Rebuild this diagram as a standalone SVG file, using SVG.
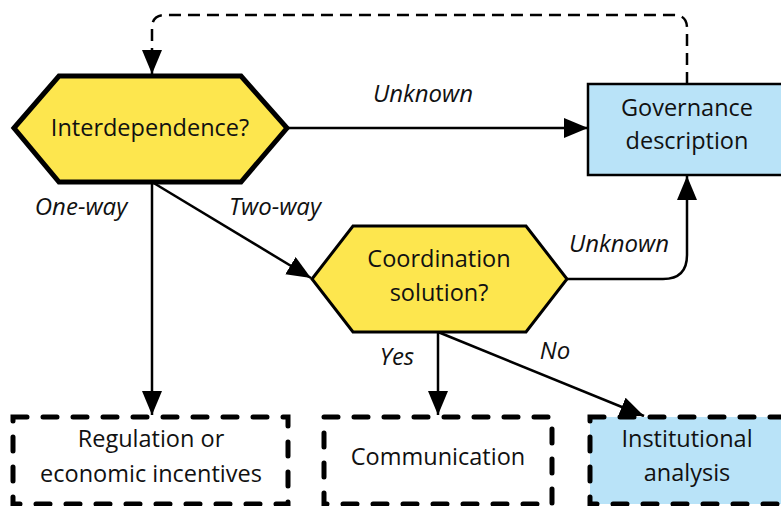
<svg xmlns="http://www.w3.org/2000/svg" width="781" height="506" viewBox="0 0 781 506">
<defs>
<marker id="arr" markerUnits="userSpaceOnUse" markerWidth="26" markerHeight="22" refX="24" refY="10" orient="auto">
<path d="M0,0 L24,10 L0,20 z" fill="#000"/>
</marker>
<style>
.lbl{font-family:"Open Sans","Noto Sans",sans-serif;font-size:23.5px;fill:#111;text-anchor:middle}
.it{font-family:"Open Sans","Noto Sans",sans-serif;font-size:24px;font-style:italic;fill:#111;text-anchor:middle}
.hex{fill:#fde64e;stroke:#000;stroke-linejoin:miter}
.blue{fill:#b9e3f8}
.solidbox{stroke:#000;stroke-width:2.5}
.dbox{stroke:#000;stroke-width:5;stroke-dasharray:14 16;stroke-linecap:round}
.conn{fill:none;stroke:#000;stroke-width:2.5}
</style>
</defs>
<rect width="781" height="506" fill="#fff"/>
<g id="connectors">
<path class="conn" d="M687,84 V28 Q687,15 674,15 H165 Q152,15 152,28 V74" stroke-dasharray="12 7" marker-end="url(#arr)"/>
<path class="conn" d="M287,128 H588" marker-end="url(#arr)"/>
<path class="conn" d="M152,182 V415" marker-end="url(#arr)"/>
<path class="conn" d="M152,182 L311,278" marker-end="url(#arr)"/>
<path class="conn" d="M567,279 H663 Q687,279 687,255 V176" marker-end="url(#arr)"/>
<path class="conn" d="M438,332 V415" marker-end="url(#arr)"/>
<path class="conn" d="M438,332 L644,416" marker-end="url(#arr)"/>
</g>
<g id="interdependence">
<polygon class="hex" stroke-width="5" points="14,128 59,76 241,76 287,128 241,182 59,182"/>
<text class="lbl" x="150" y="136">Interdependence?</text>
</g>
<g id="governance">
<rect class="blue solidbox" x="588" y="84" width="200" height="91"/>
<text class="lbl" x="687" y="116">Governance</text>
<text class="lbl" x="687" y="149">description</text>
</g>
<g id="coordination">
<polygon class="hex" stroke-width="3" points="312,279 353,226 526,226 567,279 526,332 353,332"/>
<text class="lbl" x="439" y="267">Coordination</text>
<text class="lbl" x="439" y="301">solution?</text>
</g>
<g id="regulation">
<rect class="dbox" fill="none" x="13" y="417" width="275" height="87"/>
<text class="lbl" x="151" y="447">Regulation or</text>
<text class="lbl" x="151" y="482">economic incentives</text>
</g>
<g id="communication">
<rect class="dbox" fill="none" x="324" y="417" width="228" height="87"/>
<text class="lbl" x="438" y="465">Communication</text>
</g>
<g id="institutional">
<rect class="dbox blue" x="590" y="417" width="200" height="87"/>
<text class="lbl" x="687" y="447">Institutional</text>
<text class="lbl" x="687" y="481">analysis</text>
</g>
<g id="labels">
<text class="it" x="423" y="102">Unknown</text>
<text class="it" x="81" y="215">One-way</text>
<text class="it" x="275" y="215">Two-way</text>
<text class="it" x="619" y="252">Unknown</text>
<text class="it" x="397" y="365">Yes</text>
<text class="it" x="555" y="359">No</text>
</g>
</svg>
